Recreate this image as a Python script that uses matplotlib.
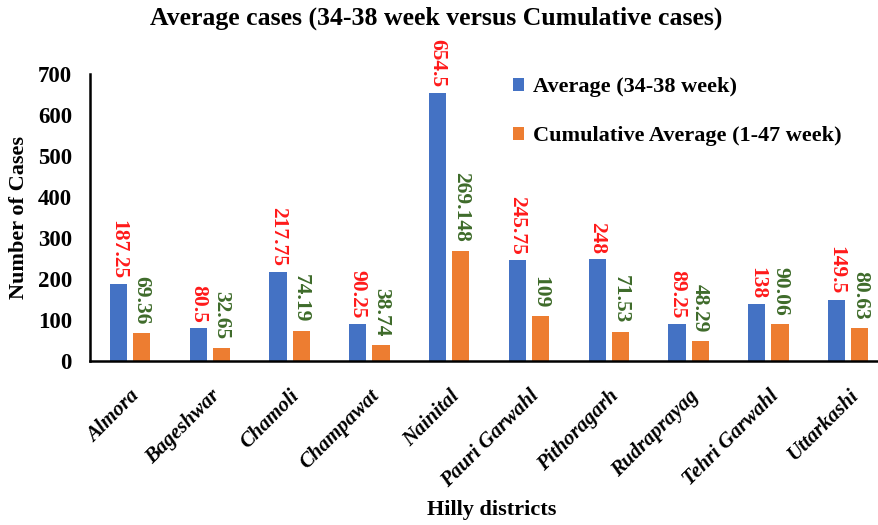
import numpy as np
import matplotlib.pyplot as plt

# data
districts = ['Almora', 'Bageshwar', 'Chamoli', 'Champawat', 'Nainital',
             'Pauri Garwahl', 'Pithoragarh', 'Rudraprayag', 'Tehri Garwahl', 'Uttarkashi']
avg_34_38 = [187.25, 80.5, 217.75, 90.25, 654.5, 245.75, 248, 89.25, 138, 149.5]
cum_avg_1_47 = [69.36, 32.65, 74.19, 38.74, 269.148, 109, 71.53, 48.29, 90.06, 80.63]
avg_labels = ['187.25', '80.5', '217.75', '90.25', '654.5', '245.75', '248', '89.25', '138', '149.5']
cum_labels = ['69.36', '32.65', '74.19', '38.74', '269.148', '109', '71.53', '48.29', '90.06', '80.63']

plt.rcParams['font.family'] = ['Liberation Serif', 'DejaVu Serif']
plt.rcParams['font.weight'] = 'bold'

fig = plt.figure(figsize=(8.79, 5.25), dpi=100)
ax = fig.add_axes([0.1024, 0.3124, 0.908, 0.5467])

x = np.arange(len(districts))
w = 0.215
off = 0.145
ax.bar(x - off, avg_34_38, w, color='#4472C4', label='Average (34-38 week)')
ax.bar(x + off, cum_avg_1_47, w, color='#ED7D31', label='Cumulative Average (1-47 week)')

# value labels, rotated to read top-down
for xi, v, s in zip(x, avg_34_38, avg_labels):
    ax.annotate(s, (xi - off, v), xytext=(0, 4), textcoords='offset points',
                rotation=-90, ha='center', va='bottom', color='#FF1A1A',
                fontsize=15.5, fontweight='bold')
for xi, v, s in zip(x, cum_avg_1_47, cum_labels):
    ax.annotate(s, (xi + off, v), xytext=(0, 6), textcoords='offset points',
                rotation=-90, ha='center', va='bottom', color='#3E6B2A',
                fontsize=15.5, fontweight='bold')

ax.set_xlim(-0.5, 9.5)
ax.set_ylim(0, 700)
ax.set_yticks(range(0, 701, 100))
ax.tick_params(axis='y', length=0, pad=13, labelsize=16.5)
ax.tick_params(axis='x', length=0, pad=18)
ax.set_xticks(x)
ax.set_xticklabels(districts, rotation=45, ha='right', rotation_mode='anchor',
                   fontsize=15, fontstyle='italic', fontweight='bold')
for lab in ax.get_yticklabels():
    lab.set_fontweight('bold')

for sp in ['top', 'right']:
    ax.spines[sp].set_visible(False)
for sp in ['left', 'bottom']:
    ax.spines[sp].set_linewidth(1.8)

ax.set_ylabel('Number of Cases', fontsize=16, fontweight='bold', labelpad=6)
fig.text(0.559, 0.029, 'Hilly districts', ha='center', va='center',
         fontsize=16, fontweight='bold')
fig.text(0.496, 0.966, 'Average cases (34-38 week versus Cumulative cases)',
         ha='center', va='center', fontsize=18.5, fontweight='bold')

ax.legend(loc='upper left', bbox_to_anchor=(0.505, 1.058), frameon=False,
          fontsize=16, handlelength=0.5, handleheight=0.5, handletextpad=0.4,
          labelspacing=1.3)

fig.savefig('out.png', dpi=100)
